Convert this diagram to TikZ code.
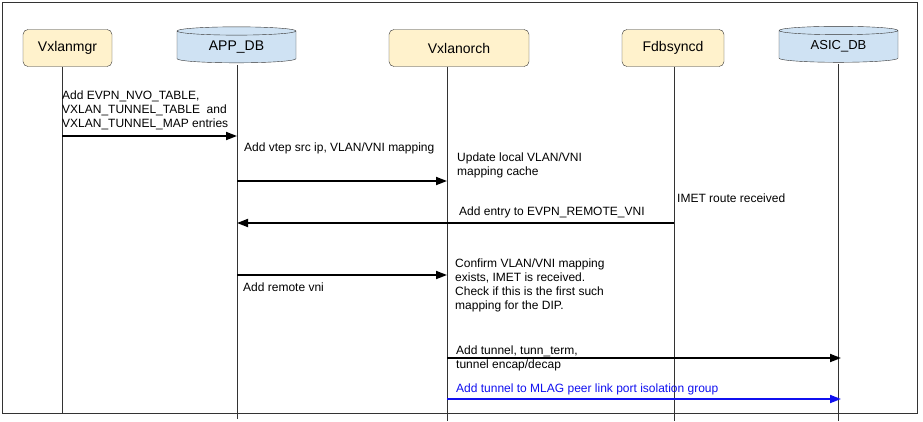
\documentclass[tikz,border=0pt]{standalone}
\usepackage{fontspec}
\setmainfont{Liberation Sans}
\usetikzlibrary{arrows.meta,shapes.geometric}

\definecolor{procfill}{HTML}{FFF2CC}
\definecolor{dbfill}{HTML}{CFE2F3}
\definecolor{edgegray}{HTML}{333333}
\definecolor{msgblue}{HTML}{1010F0}

\tikzset{
  proc/.style={draw=edgegray, fill=procfill, rounded corners=5pt, minimum height=37pt,
    inner sep=0pt, font=\fontsize{14}{16}\selectfont},
  store/.style={draw=edgegray, shape=cylinder, shape border rotate=90, aspect=0.15,
    cylinder uses custom fill, cylinder body fill=dbfill, cylinder end fill=dbfill,
    minimum width=119pt, minimum height=36pt, inner sep=0pt},
  life/.style={draw=edgegray, line width=0.8pt},
  msg/.style={line width=1.8pt, -{Triangle[length=11pt,width=8pt]}},
  note/.style={anchor=west, align=left, inner sep=0pt, font=\fontsize{12}{14}\selectfont},
}

\begin{document}
\begin{tikzpicture}[x=1pt,y=-1pt]
    \useasboundingbox (0,0) rectangle (923,421);
    \draw[edgegray] (2.5,2.5) rectangle (917.5,413);

    % participants
    \node[proc, minimum width=89pt] (mgr) at (67.5,48) {Vxlanmgr};
    \node[store, font=\fontsize{14}{16}\selectfont] (app) at (236.5,47) {APP\_DB};
    \node[proc, minimum width=140pt] (orch) at (459,48) {Vxlanorch};
    \node[proc, minimum width=102pt] (fdb) at (673,48) {Fdbsyncd};
    \node[store, font=\fontsize{13}{15}\selectfont] (asic) at (838.5,46.5) {ASIC\_DB};

    % lifelines
    \coordinate (mgr-top) at (62,66.5);
    \coordinate (mgr-end) at (62,413);
    \coordinate (app-top) at (237,65);
    \coordinate (app-end) at (237,419);
    \coordinate (orch-top) at (447,66.5);
    \coordinate (orch-end) at (447,421);
    \coordinate (fdb-top) at (674,66.5);
    \coordinate (fdb-end) at (674,421);
    \coordinate (asic-top) at (838,64);
    \coordinate (asic-end) at (838,421);
    \coordinate (asic-in) at (841,0);
    \draw[life] (mgr-top) -- (mgr-end);
    \draw[life] (app-top) -- (app-end);
    \draw[life] (orch-top) -- (orch-end);
    \draw[life] (fdb-top) -- (fdb-end);
    \draw[life] (asic-top) -- (asic-end);

    % messages
    \draw[msg] (mgr-top |- 0,136) -- (app-top |- 0,136);
    \node[note] (m1) at (62,110) {Add EVPN\_NVO\_TABLE,\\VXLAN\_TUNNEL\_TABLE\ \ and\\VXLAN\_TUNNEL\_MAP entries};

    \draw[msg] (app-top |- 0,181) -- (orch-top |- 0,181);
    \node[note] (m2) at (244,148) {Add vtep src ip, VLAN/VNI mapping};
    \node[note] (n2) at (457,165) {Update local VLAN/VNI\\mapping cache};

    \draw[msg] (fdb-top |- 0,223) -- (app-top |- 0,223);
    \node[note] (m3) at (459,212) {Add entry to EVPN\_REMOTE\_VNI};
    \node[note] (n3) at (677,198) {IMET route received};

    \draw[msg] (app-top |- 0,275) -- (orch-top |- 0,275);
    \node[note] (m4) at (243,287) {Add remote vni};
    \node[note] (n4) at (455,285) {Confirm VLAN/VNI mapping\\exists, IMET is received.\\Check if this is the first such\\mapping for the DIP.};

    \draw[msg] (orch-top |- 0,358) -- (asic-in |- 0,358);
    \node[note] (m5) at (456,358) {Add tunnel, tunn\_term,\\tunnel encap/decap};

    \draw[msg, msgblue] (orch-top |- 0,399) -- (asic-in |- 0,399);
    \node[note, text=msgblue] (m6) at (456,389) {Add tunnel to MLAG peer link port isolation group};
\end{tikzpicture}
\end{document}
